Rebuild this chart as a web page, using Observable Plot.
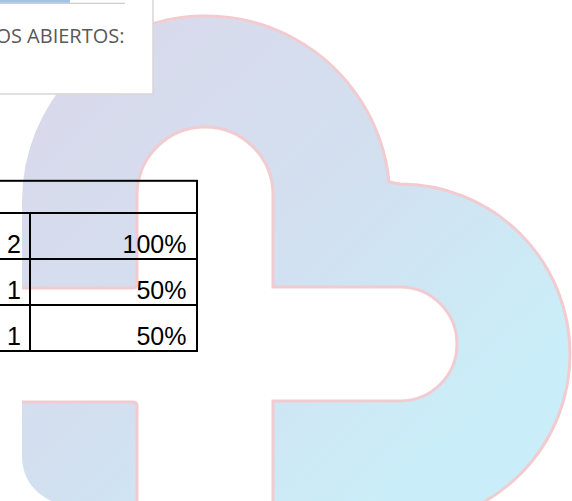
<!DOCTYPE html>
<html>
<head>
<meta charset="utf-8">
<script src="https://cdn.jsdelivr.net/npm/d3@7"></script>
<script src="https://cdn.jsdelivr.net/npm/@observablehq/plot@0.6"></script>
<style>
  html, body { margin: 0; padding: 0; background: #ffffff; overflow: hidden; }
  #chart svg { display: block; }
</style>
</head>
<body>
<div id="chart"></div>
<script>
// ---- data ----
const rowIds = [0, 1, 2];
const counts = [2, 1, 1];
const shares = [1.0, 0.5, 0.5];
const panelLabel = "OS ABIERTOS:";

const rows = rowIds.map(i => ({ row: i, count: counts[i], share: shares[i] }));
const pct = d3.format(".0%");

const tableFont = "'Liberation Sans', Arial, sans-serif";
const panelFont = "'Open Sans', 'Noto Sans', sans-serif";
const line = { fill: "none", stroke: "#000000", strokeWidth: 2 };

const plot = Plot.plot({
  width: 572,
  height: 501,
  margin: 0,
  style: { background: "transparent", overflow: "hidden" },
  x: { type: "identity", axis: null },
  y: { domain: [0, 3], range: [213, 351], axis: null },
  marks: [
    // header row (merged cell)
    Plot.rect([{}], { x1: -5, x2: 197, y1: -0.7, y2: 0, ...line }),
    // count column cells
    Plot.rect(rows, { x1: -5, x2: 30, y1: "row", y2: d => d.row + 1, ...line }),
    // percentage column cells
    Plot.rect(rows, { x1: 30, x2: 197, y1: "row", y2: d => d.row + 1, ...line }),
    Plot.text(rows, {
      x: 20.5, y: d => d.row + 1, dy: -7,
      text: d => String(d.count),
      textAnchor: "end", lineAnchor: "bottom",
      fontSize: 25, fontFamily: tableFont, fill: "#000000"
    }),
    Plot.text(rows, {
      x: 186, y: d => d.row + 1, dy: -7,
      text: d => pct(d.share),
      textAnchor: "end", lineAnchor: "bottom",
      fontSize: 25, fontFamily: tableFont, fill: "#000000"
    })
  ]
});

// ---- decorative background: watermark logo and top-left panel ----
const svg = d3.select(plot);
const deco = svg.insert("g", "g").attr("class", "decoration");

const defs = deco.append("defs");
const grad = defs.append("linearGradient")
  .attr("id", "logoGrad").attr("gradientUnits", "userSpaceOnUse")
  .attr("x1", 120).attr("y1", 60).attr("x2", 470).attr("y2", 420);
grad.append("stop").attr("offset", 0).attr("stop-color", "#d8daec");
grad.append("stop").attr("offset", 0.5).attr("stop-color", "#d2e0f0");
grad.append("stop").attr("offset", 1).attr("stop-color", "#caeef9");

const mainShape = "M22,288 L22,200 A184,184 0 0 1 389,182 L400,184 A170,170 0 0 1 570,354 A170,170 0 0 1 400,524 L273,524 L273,401 L400,401 A57,57 0 0 0 457,344 A57,57 0 0 0 400,287 L273,287 L273,195 A68,68 0 0 0 205,127 A68,68 0 0 0 137,195 L137,284 Q137,288 133,288 Z";
const lowerShape = "M22,402 L133,402 Q137,402 137,406 L137,520 L70,520 L60,505 C35,495 22,480 22,455 Z";
const mainEdge = "M120,37.3 A184,184 0 0 1 389,182 L400,184 A170,170 0 0 1 570,354 A170,170 0 0 1 400,524 M273,524 L273,401 L400,401 A57,57 0 0 0 457,344 A57,57 0 0 0 400,287 L273,287 L273,195 A68,68 0 0 0 205,127 A68,68 0 0 0 137,195 L137,284 Q137,288 133,288 L22,288";
const lowerEdge = "M22,402 L133,402 Q137,402 137,406 L137,520";

deco.append("path").attr("d", mainShape).attr("fill", "url(#logoGrad)");
deco.append("path").attr("d", lowerShape).attr("fill", "url(#logoGrad)");
deco.append("path").attr("d", mainEdge).attr("fill", "none").attr("stroke", "#f1cbcf").attr("stroke-width", 3);
deco.append("path").attr("d", lowerEdge).attr("fill", "none").attr("stroke", "#f1cbcf").attr("stroke-width", 3);

// top-left panel
deco.append("rect").attr("x", -3).attr("y", -3).attr("width", 156).attr("height", 97)
  .attr("fill", "#ffffff").attr("stroke", "#d6d6d6").attr("stroke-width", 1.5);
deco.append("rect").attr("x", 0).attr("y", 2.7).attr("width", 125).attr("height", 1.3).attr("fill", "#cfcfcf");
deco.append("rect").attr("x", 0).attr("y", 0).attr("width", 70).attr("height", 2.8).attr("fill", "#a3c3e6");

// panel label (text, drawn with Plot's text mark into the same svg frame)
const labelPlot = Plot.plot({
  width: 572, height: 501, margin: 0,
  style: { background: "transparent" },
  marks: [
    Plot.text([panelLabel], {
      frameAnchor: "top-left", dx: 124, dy: 28.1,
      textAnchor: "end", lineAnchor: "top",
      fontSize: 20, fontFamily: panelFont, fill: "#595959"
    })
  ]
});
d3.select(labelPlot).selectAll("g[aria-label='text']").each(function() {
  plot.appendChild(this);
});

document.getElementById("chart").appendChild(plot);
</script>
</body>
</html>
